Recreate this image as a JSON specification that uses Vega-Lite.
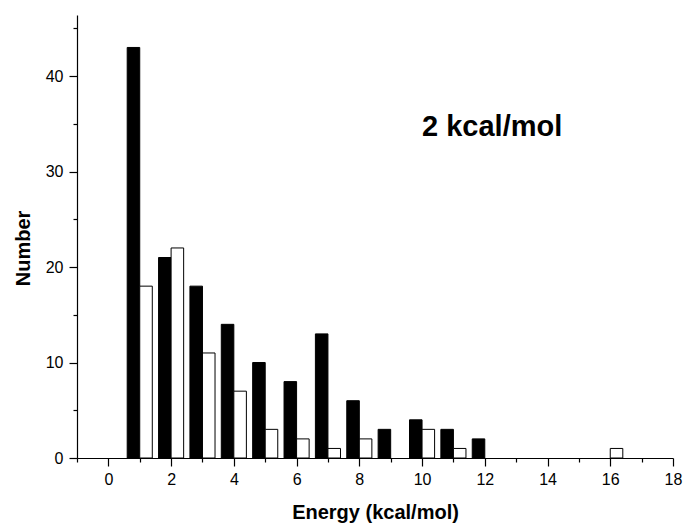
{
  "$schema": "https://vega.github.io/schema/vega-lite/v6.json",
  "width": 596,
  "height": 443,
  "autosize": {"type": "none"},
  "padding": {"left": 77, "top": 15, "right": 14, "bottom": 70},
  "background": "white",
  "config": {
    "view": {"stroke": null},
    "font": "Liberation Sans",
    "axis": {"grid": false, "domainColor": "black", "tickColor": "black", "labelColor": "black", "titleColor": "black", "domainWidth": 1.2, "tickWidth": 1.2, "labelFont": "Liberation Sans", "titleFont": "Liberation Sans"}
  },
  "datasets": {
    "bars": [
      {"series": "A", "lo": 0.6, "hi": 1.0, "count": 43},
      {"series": "A", "lo": 1.6, "hi": 2.0, "count": 21},
      {"series": "A", "lo": 2.6, "hi": 3.0, "count": 18},
      {"series": "A", "lo": 3.6, "hi": 4.0, "count": 14},
      {"series": "A", "lo": 4.6, "hi": 5.0, "count": 10},
      {"series": "A", "lo": 5.6, "hi": 6.0, "count": 8},
      {"series": "A", "lo": 6.6, "hi": 7.0, "count": 13},
      {"series": "A", "lo": 7.6, "hi": 8.0, "count": 6},
      {"series": "A", "lo": 8.6, "hi": 9.0, "count": 3},
      {"series": "A", "lo": 9.6, "hi": 10.0, "count": 4},
      {"series": "A", "lo": 10.6, "hi": 11.0, "count": 3},
      {"series": "A", "lo": 11.6, "hi": 12.0, "count": 2},
      {"series": "B", "lo": 1.0, "hi": 1.4, "count": 18},
      {"series": "B", "lo": 2.0, "hi": 2.4, "count": 22},
      {"series": "B", "lo": 3.0, "hi": 3.4, "count": 11},
      {"series": "B", "lo": 4.0, "hi": 4.4, "count": 7},
      {"series": "B", "lo": 5.0, "hi": 5.4, "count": 3},
      {"series": "B", "lo": 6.0, "hi": 6.4, "count": 2},
      {"series": "B", "lo": 7.0, "hi": 7.4, "count": 1},
      {"series": "B", "lo": 8.0, "hi": 8.4, "count": 2},
      {"series": "B", "lo": 10.0, "hi": 10.4, "count": 3},
      {"series": "B", "lo": 11.0, "hi": 11.4, "count": 1},
      {"series": "B", "lo": 16.0, "hi": 16.4, "count": 1}
    ],
    "label": [{"x": 10, "y": 33.7, "text": "2 kcal/mol"}]
  },
  "resolve": {"axis": {"x": "independent", "y": "independent"}},
  "layer": [
    {
      "data": {"name": "bars"},
      "mark": {"type": "bar", "stroke": "black", "strokeWidth": 1},
      "encoding": {
        "x": {"field": "lo", "type": "quantitative", "scale": {"domain": [-1, 18], "nice": false, "zero": false},
              "axis": {"orient": "bottom", "values": [0, 2, 4, 6, 8, 10, 12, 14, 16, 18], "title": "Energy (kcal/mol)", "titleFontSize": 20, "titleFontWeight": "bold", "titlePadding": 15, "labelFontSize": 16, "tickSize": 8, "labelPadding": 5, "labelFlush": false}},
        "x2": {"field": "hi"},
        "y": {"field": "count", "type": "quantitative", "stack": null, "scale": {"domain": [0, 46.4], "nice": false},
              "axis": {"orient": "left", "values": [0, 10, 20, 30, 40], "title": "Number", "titleFontSize": 20, "titleFontWeight": "bold", "titlePadding": 12, "titleY": 233, "labelFontSize": 16, "tickSize": 8, "labelPadding": 6, "labelFlush": false}},
        "y2": {"datum": 0},
        "fill": {"field": "series", "type": "nominal", "scale": {"domain": ["A", "B"], "range": ["black", "white"]}, "legend": null}
      }
    },
    {
      "data": {"values": [{"v": 0}]},
      "mark": {"type": "point", "opacity": 0},
      "encoding": {
        "x": {"field": "v", "type": "quantitative", "axis": {"orient": "bottom", "values": [-1, 1, 3, 5, 7, 9, 11, 13, 15, 17], "labels": false, "domain": false, "title": null, "tickSize": 4}},
        "y": {"field": "v", "type": "quantitative", "axis": {"orient": "left", "values": [5, 15, 25, 35, 45], "labels": false, "domain": false, "title": null, "tickSize": 4}}
      }
    },
    {
      "data": {"name": "label"},
      "mark": {"type": "text", "align": "left", "baseline": "alphabetic", "fontSize": 29, "fontWeight": "bold", "font": "Liberation Sans"},
      "encoding": {
        "x": {"field": "x", "type": "quantitative", "axis": null},
        "y": {"field": "y", "type": "quantitative", "axis": null},
        "text": {"field": "text"}
      }
    }
  ]
}
